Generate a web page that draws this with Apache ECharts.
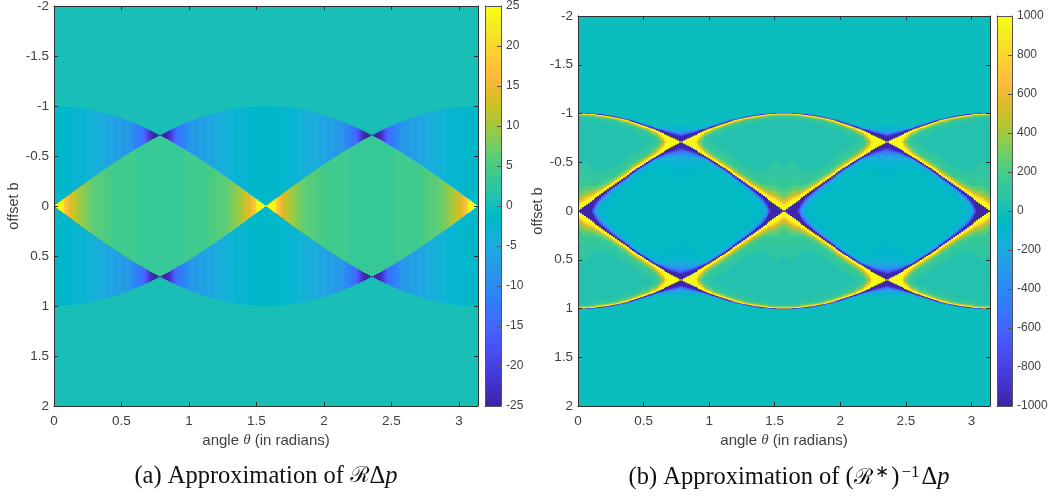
<!DOCTYPE html>
<html><head><meta charset="utf-8">
<style>html,body{margin:0;padding:0;background:#fff}#c{width:1050px;height:496px}</style>
<script src="https://cdn.jsdelivr.net/npm/echarts@6/dist/echarts.min.js"></script>
</head><body><div id="c"></div>
<script>
const thetaMax = 3.14159;
const xTickStep = 0.5, yTickStep = 0.5;
const parula = [[0.2422,0.1504,0.6603],[0.2504,0.1650,0.7076],[0.2578,0.1818,0.7511],[0.2647,0.1978,0.7952],[0.2706,0.2147,0.8364],[0.2751,0.2342,0.8710],[0.2783,0.2559,0.8991],[0.2803,0.2782,0.9221],[0.2813,0.3006,0.9414],[0.2810,0.3228,0.9579],[0.2795,0.3447,0.9717],[0.2760,0.3667,0.9829],[0.2699,0.3892,0.9906],[0.2602,0.4123,0.9952],[0.2440,0.4358,0.9988],[0.2206,0.4603,0.9973],[0.1963,0.4847,0.9892],[0.1834,0.5074,0.9798],[0.1786,0.5289,0.9682],[0.1764,0.5499,0.9520],[0.1687,0.5703,0.9359],[0.1540,0.5902,0.9218],[0.1460,0.6091,0.9079],[0.1380,0.6276,0.8973],[0.1248,0.6459,0.8883],[0.1113,0.6635,0.8763],[0.0952,0.6798,0.8598],[0.0689,0.6948,0.8394],[0.0297,0.7082,0.8163],[0.0036,0.7203,0.7917],[0.0067,0.7312,0.7660],[0.0433,0.7411,0.7394],[0.0964,0.7500,0.7120],[0.1408,0.7584,0.6842],[0.1717,0.7670,0.6554],[0.1938,0.7758,0.6251],[0.2161,0.7843,0.5923],[0.2470,0.7918,0.5567],[0.2906,0.7973,0.5188],[0.3406,0.8008,0.4789],[0.3909,0.8029,0.4354],[0.4456,0.8024,0.3909],[0.5044,0.7993,0.3480],[0.5616,0.7942,0.3045],[0.6174,0.7876,0.2612],[0.6720,0.7793,0.2227],[0.7242,0.7698,0.1910],[0.7738,0.7598,0.1646],[0.8203,0.7498,0.1535],[0.8634,0.7406,0.1596],[0.9035,0.7330,0.1774],[0.9393,0.7288,0.2100],[0.9728,0.7298,0.2394],[0.9956,0.7434,0.2371],[0.9970,0.7659,0.2199],[0.9952,0.7893,0.2028],[0.9892,0.8136,0.1885],[0.9786,0.8386,0.1766],[0.9676,0.8639,0.1643],[0.9610,0.8890,0.1537],[0.9597,0.9135,0.1423],[0.9628,0.9373,0.1265],[0.9691,0.9606,0.1064],[0.9769,0.9839,0.0805]];

// Curves read per column over the first eighth of the period (the picture mirrors them)
const lowerEdge = [.007,.022,.037,.052,.067,.081,.096,.111,.126,.140,.155,.170,.184,.199,.213,.228,.242,.256,.271,.285,.299,.313,.327,.341,.355,.369,.383,.396,.410,.423,.437,.450,.463,.476,.489,.502,.515,.528,.540,.553,.565,.577,.589,.601,.613,.624,.636,.647,.659,.669,.680,.691,.702];
const upperEdge = [1,1,.999,.999,.998,.997,.995,.994,.992,.990,.988,.986,.983,.980,.977,.974,.970,.967,.963,.959,.954,.950,.945,.940,.935,.929,.924,.918,.912,.906,.900,.893,.886,.879,.872,.865,.857,.850,.842,.834,.825,.817,.808,.799,.790,.781,.772,.762,.753,.743,.733,.723,.713];

// Panel (a)
const leftRange = [-25,25];
const leftOutside = 0;
const leftInner = [25,25,25,25,23,19,16.5,15,14,13,12,11,10,9.5,9,8.5,8,7.5,7,6.5,6,5.5,5.5,5.5,5.5,5,5,5,5,4.5,4.5,4.5,4.5,4.5,4,4,4,4,4,4,4,3.5,3.5,3.5,3.5,3.5,3.5,3.5,3.5,3.5,3.5,3.5,3.5];
const leftBand = [-2,-2,-2,-2,-2,-2,-2,-2,-2,-2.5,-2.5,-2.5,-2.5,-2.5,-2.5,-2.5,-3.5,-3.5,-3.5,-3.5,-4.5,-4.5,-4.5,-4.5,-4.5,-4.5,-5.5,-5.5,-5.5,-5.5,-6.5,-6.5,-6.5,-6.5,-7.5,-7.5,-7.5,-8.5,-8.5,-9.5,-10.5,-11.5,-12,-13,-14,-15.5,-18,-21,-23,-25,-25,-25,-25];
const leftTicks = 5;

// Panel (b): levels seen walking away from each curve, and how wide each column shows them
const rightRange = [-1000,1000];
const rightTicks = 200;
const innerStops = [1,1.25,1.5,1.8,2.2,2.8,3.6,5,7];
const innerLevels = [-1000,-850,-700,-550,-400,-260,-170,-110,-75];
const innerBase = -50;
const bandLowStops = [1,1.3,1.6,2,2.5,3,4,6,9];
const bandLowLevels = [1000,850,700,550,420,320,220,150,100];
const bandHighStops = [1,1.5,2,3,4,6,10];
const bandHighLevels = [1000,800,550,350,220,140,80];
const bandBase = 50;
const outerStops = [1,1.2,1.4,1.7,2.2,3];
const outerLevels = [-1000,-800,-600,-400,-250,-120];
const outerBase = -30;
const innerWidth = [12,12,12,12,11,10,9,7.5,6,5,4,3.5,3,2.8,2.6,2.4,2.2,2.1,2,1.9,1.8,1.7,1.7,1.7,1.7,1.7,1.5,1.5,1.5,1.5,1.5,1.4,1.4,1.4,1.4,1.4,1.4,1.4,1.4,1.4,1.5,1.7,1.9,2.2,2.5,2.8,3.1,3.5,3.9,4.3,4.7,5.1,5.5];
const bandLowWidth = [5,5,5,5,4.8,4.4,4,3.6,3.3,3,2.8,2.6,2.5,2.4,2.3,2.2,2.1,2.1,2,2,2,2,2,2,2,2,2,2,2,2,2,2,2,2,2,2,2,2.1,2.2,2.3,2.5,3,3.6,4.5,5.5,7,8.5,10,12,12,12,12,12];
const bandHighWidth = [.6,.6,.6,.6,.6,.6,.6,.6,.6,.8,.8,.8,.8,.8,.8,.8,.8,.8,.8,.8,.8,1,1,1,1,1,1,1,1,1,1,1.2,1.2,1.2,1.2,1.2,1.2,1.6,1.6,1.6,1.7,2.5,3,4,5,6.5,8,10,12,12,12,12,12];
const outerWidth = [.5,.5,.5,.5,.5,.5,.5,.5,.5,.5,.5,.7,.7,.7,.7,.7,.7,.7,.7,.7,.7,.7,.7,.7,.7,.7,1,1,1,1,1,1,1,1,1,1,1.4,1.4,1.4,1.4,1.4,1.6,2,2.3,2.6,2.9,3.2,3.5,3.9,4.3,4.7,5.1,5.5];

const COLS = 212, FOLD = 53;
const colW = thetaMax / COLS;

function foldIndex(j){ const m = j % (2*FOLD); return m < FOLD ? m : 2*FOLD-1-m; }
function level(stops, levels, base, d){
  for (let i=0;i<stops.length;i++) if (d<=stops[i]) return levels[i];
  return base;
}
function addMirrored(out, j, b0, b1, v){
  const t0=j*colW, t1=(j+1)*colW;
  out.push([t0,t1,b0,b1,v]);
  out.push([t0,t1,-b1,-b0,v]);
}
function leftCells(){
  const out=[];
  for (let j=0;j<COLS;j++){
    const k=foldIndex(j);
    addMirrored(out,j,0,lowerEdge[k],leftInner[k]);
    addMirrored(out,j,lowerEdge[k],upperEdge[k],leftBand[k]);
    addMirrored(out,j,upperEdge[k],2,leftOutside);
  }
  return out;
}
function rightColumn(k){
  const lo=lowerEdge[k], hi=upperEdge[k], runs=[], step=0.0025;
  let start=0, cur=null;
  for (let r=0;r<800;r++){
    const b=(r+.5)*step; let v;
    if (b<lo) v=level(innerStops,innerLevels,innerBase,(lo-b)/.01/innerWidth[k]);
    else if (b<hi) v=Math.max(
      level(bandLowStops,bandLowLevels,bandBase,(b-lo)/.01/bandLowWidth[k]),
      level(bandHighStops,bandHighLevels,bandBase,(hi-b)/.01/bandHighWidth[k]));
    else v=level(outerStops,outerLevels,outerBase,(b-hi)/.01/outerWidth[k]);
    if (v!==cur){ if(cur!==null) runs.push([start,r*step,cur]); start=r*step; cur=v; }
  }
  runs.push([start,2,cur]);
  return runs;
}
function rightCells(){
  const cols=[]; for(let k=0;k<FOLD;k++) cols.push(rightColumn(k));
  const out=[];
  for (let j=0;j<COLS;j++) for (const r of cols[foldIndex(j)]) addMirrored(out,j,r[0],r[1],r[2]);
  return out;
}
function barCells(range){
  const out=[], n=parula.length, s=(range[1]-range[0])/n;
  for (let i=0;i<n;i++) out.push([0,1,range[0]+i*s,range[0]+(i+1)*s,range[0]+(i+.5)*s]);
  return out;
}
function toCss(c){ return 'rgb('+c.map(x=>Math.round(x*255)).join(',')+')'; }
const parulaCss = parula.map(toCss);
function colourOf(range,v){
  const t=(v-range[0])/(range[1]-range[0]);
  return parulaCss[Math.max(0,Math.min(parula.length-1,Math.floor(t*parula.length)))];
}
function painter(range,snapY){
  return function(params,api){
    const a=api.coord([api.value(0),api.value(2)]), b=api.coord([api.value(1),api.value(3)]);
    const x0=Math.round(a[0]),x1=Math.round(b[0]);
    let y0=Math.min(a[1],b[1]),y1=Math.max(a[1],b[1]);
    if (snapY){ y0=Math.round(y0); y1=Math.round(y1); }
    else if (y1<=y0) return null;
    else if (api.value(3)>0) y1+=.75; else y0-=.75;   // lie under the next run so no seam shows
    if (x1<=x0||y1<=y0) return null;
    return {type:'rect',silent:true,shape:{x:x0,y:y0,width:x1-x0,height:y1-y0},style:{fill:colourOf(range,api.value(4))}};
  };
}
const INK='#303030', FONT='"Liberation Sans",Arial,sans-serif';
const TXT='#404040';
const labelStyle={color:TXT,fontSize:13.5,fontFamily:FONT};
const barLabelStyle={color:TXT,fontSize:12,fontFamily:FONT};
const grids=[],xAxes=[],yAxes=[],series=[];
function panel(rect,barRect,data,range,barStep,backing){
  const g=grids.length;
  grids.push(Object.assign({show:true,backgroundColor:colourOf(range,backing),borderWidth:0,outerBoundsMode:'none'},rect.box));
  const line={show:true,onZero:false,lineStyle:{color:INK,width:1}};
  const tick={show:true,inside:true,length:4,lineStyle:{color:INK,width:1}};
  const xi=xAxes.length, yi=yAxes.length;
  xAxes.push({type:'value',z:10,gridIndex:g,position:'bottom',min:0,max:thetaMax,interval:xTickStep,splitLine:{show:false},axisLine:line,axisTick:tick,
    axisLabel:Object.assign({margin:8,showMaxLabel:false},labelStyle),
    name:'angle {t|θ} (in radians)',nameLocation:'middle',nameGap:rect.xGap,
    nameTextStyle:{color:TXT,fontSize:15,fontFamily:FONT,rich:{t:{fontFamily:'"Liberation Serif",serif',fontStyle:'italic',fontSize:15,color:TXT}}}});
  xAxes.push({type:'value',z:10,gridIndex:g,position:'top',min:0,max:thetaMax,interval:xTickStep,splitLine:{show:false},axisLine:line,axisTick:tick,axisLabel:{show:false}});
  yAxes.push({type:'value',z:10,gridIndex:g,position:'left',inverse:true,min:-2,max:2,interval:yTickStep,splitLine:{show:false},axisLine:line,axisTick:tick,
    axisLabel:Object.assign({margin:5},labelStyle),
    name:'offset b',nameLocation:'middle',nameGap:rect.yGap,nameRotate:90,nameTextStyle:{color:TXT,fontSize:14.5,fontFamily:FONT}});
  yAxes.push({type:'value',z:10,gridIndex:g,position:'right',inverse:true,min:-2,max:2,interval:yTickStep,splitLine:{show:false},axisLine:line,axisTick:tick,axisLabel:{show:false}});
  series.push({type:'custom',coordinateSystem:'cartesian2d',xAxisIndex:xi,yAxisIndex:yi,data:data,progressive:0,animation:false,silent:true,
    encode:{x:[0,1],y:[2,3]},renderItem:painter(range,false),clip:true,z:1});
  // colour bar
  const h=grids.length; grids.push(Object.assign({outerBoundsMode:'none'},barRect));
  const bLine={show:true,onZero:false,lineStyle:{color:'#555',width:1}};
  const xb=xAxes.length,yb=yAxes.length;
  xAxes.push({type:'value',z:10,gridIndex:h,position:'bottom',min:0,max:1,splitLine:{show:false},axisLine:bLine,axisTick:{show:false},axisLabel:{show:false}});
  xAxes.push({type:'value',z:10,gridIndex:h,position:'top',min:0,max:1,splitLine:{show:false},axisLine:bLine,axisTick:{show:false},axisLabel:{show:false}});
  yAxes.push({type:'value',z:10,gridIndex:h,position:'right',min:range[0],max:range[1],interval:barStep,splitLine:{show:false},axisLine:bLine,
    axisTick:{show:true,inside:true,length:4,lineStyle:{color:'#555',width:1}},axisLabel:Object.assign({margin:5,formatter:function(v){return String(v);}},barLabelStyle)});
  yAxes.push({type:'value',z:10,gridIndex:h,position:'left',min:range[0],max:range[1],splitLine:{show:false},axisLine:bLine,axisTick:{show:false},axisLabel:{show:false}});
  series.push({type:'custom',coordinateSystem:'cartesian2d',xAxisIndex:xb,yAxisIndex:yb,data:barCells(range),animation:false,silent:true,
    encode:{x:[0,1],y:[2,3]},renderItem:painter(range,true),z:1});
}
panel({box:{left:54,top:6,width:424,height:400},xGap:26,yGap:32},{left:485,top:6,width:16,height:400},leftCells(),leftRange,leftTicks,leftOutside);
panel({box:{left:578,top:16,width:412,height:390},xGap:26,yGap:32},{left:997,top:16,width:15,height:390},rightCells(),rightRange,rightTicks,outerBase);

const serif='"Liberation Serif","Times New Roman",serif';
const capRich={
  r:{fontFamily:'"DejaVu Serif","Noto Sans",serif',fontStyle:'italic',fontSize:22,color:'#111'},
  p:{fontFamily:serif,fontStyle:'italic',fontSize:24.5,color:'#111'},
  s:{fontFamily:serif,fontSize:17,color:'#111',padding:[0,2,11,2]}
};
const captionA='(a) Approximation of {r|ℛ}Δ{p|p}';
const captionB='(b) Approximation of ({r|ℛ}{s|∗}){s|−1}Δ{p|p}';
const chart=echarts.init(document.getElementById('c'),null,{renderer:'canvas'});
chart.setOption({
  animation:false,backgroundColor:'#fff',
  grid:grids,xAxis:xAxes,yAxis:yAxes,series:series,
  title:[
    {text:captionA,left:261,top:459,textAlign:'center',textStyle:{fontFamily:serif,fontSize:24.5,fontWeight:'normal',color:'#111',rich:capRich}},
    {text:captionB,left:784,top:459,textAlign:'center',textStyle:{fontFamily:serif,fontSize:24.5,fontWeight:'normal',color:'#111',rich:capRich}}
  ]
});
</script></body></html>
